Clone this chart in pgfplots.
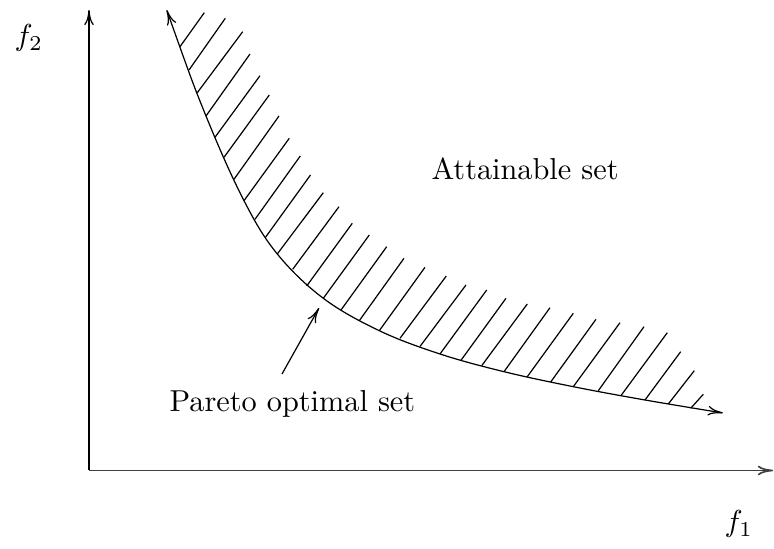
\documentclass[border=0pt]{standalone}
\usepackage{pgfplots}
\pgfplotsset{compat=1.18}
\usetikzlibrary{arrows.meta}
\begin{document}
\begin{tikzpicture}
\begin{axis}[
  hide axis, clip=false,
  x=0.33pt, y=0.33pt, y dir=reverse,
  xmin=0, xmax=774, ymin=0, ymax=549,
  unbounded coords=jump,
]
% coordinate axes
\addplot[black, line width=0.4pt, -{To[length=5pt,width=3.2pt]}] coordinates {(89,470) (89,10)};
\addplot[black!75, line width=0.55pt, -{To[length=5pt,width=3.2pt]}] coordinates {(89,470.5) (773,470.5)};
% Pareto optimal curve
\addplot[black, line width=0.4pt, smooth, tension=0.6,
  {To[length=5pt,width=3.2pt]}-{To[length=5pt,width=3.2pt]}] coordinates {
(166.7,10) (206,116) (244,200.7) (277.3,254) (323.3,298.3) (379.3,330.7)
(440,354) (504,371.7) (573.3,386.7) (645,400) (723,413)};
% hatching
\addplot[black, line width=0.4pt] table[row sep=\\] {
x y\\
180 46.7\\ 204.3 12.7\\ nan nan\\
189 70\\ 225.3 18.3\\ nan nan\\
197.3 92.7\\ 242.7 31.7\\ nan nan\\
206 116\\ 250 54\\ nan nan\\
215 137.3\\ 260 75.7\\ nan nan\\
224 157.3\\ 269.3 95\\ nan nan\\
234 179.3\\ 279 116\\ nan nan\\
244 200.7\\ 289.3 138.3\\ nan nan\\
255 219.3\\ 300.3 156\\ nan nan\\
265.5 237.3\\ 310.5 175\\ nan nan\\
277.3 254\\ 323.3 192.7\\ nan nan\\
292.7 269.3\\ 339 206.7\\ nan nan\\
306.7 286\\ 352.3 223.3\\ nan nan\\
323.3 298.3\\ 369.3 235\\ nan nan\\
341 310\\ 386.7 246.7\\ nan nan\\
359.3 320.7\\ 404 258.3\\ nan nan\\
379.3 330.7\\ 425 267.3\\ nan nan\\
400 338.3\\ 446.3 276\\ nan nan\\
420 346.5\\ 466 285\\ nan nan\\
440 354\\ 486.7 290\\ nan nan\\
460.7 360.7\\ 506 298.3\\ nan nan\\
481.7 365.7\\ 527.3 304\\ nan nan\\
504 371.7\\ 550 307.7\\ nan nan\\
527.3 376.7\\ 573.3 313.3\\ nan nan\\
550.7 382\\ 596 319.3\\ nan nan\\
573.3 386.7\\ 620 322.7\\ nan nan\\
598.3 390.7\\ 644 326.7\\ nan nan\\
620.7 396\\ 667.3 332.7\\ nan nan\\
645 400\\ 680.7 351.7\\ nan nan\\
668.3 404\\ 694.3 370.7\\ nan nan\\
690.7 408.3\\ 703.3 394.3\\
};
% pointer to the Pareto set
\addplot[black, line width=0.4pt, -{To[length=5pt,width=3.2pt]}] coordinates {(282,374) (319,308)};
% labels
\node[anchor=base west, inner sep=0pt] at (axis cs:431,180) {Attainable set};
\node[anchor=base west, inner sep=0pt] at (axis cs:169,411.5) {Pareto optimal set};
\node[anchor=base west, inner sep=0pt] at (axis cs:14,46) {$f_2$};
\node[anchor=base west, inner sep=0pt] at (axis cs:724,532) {$f_1$};
\end{axis}
\pgfresetboundingbox
\useasboundingbox (current axis.south west) rectangle (current axis.north east);
\end{tikzpicture}
\end{document}
